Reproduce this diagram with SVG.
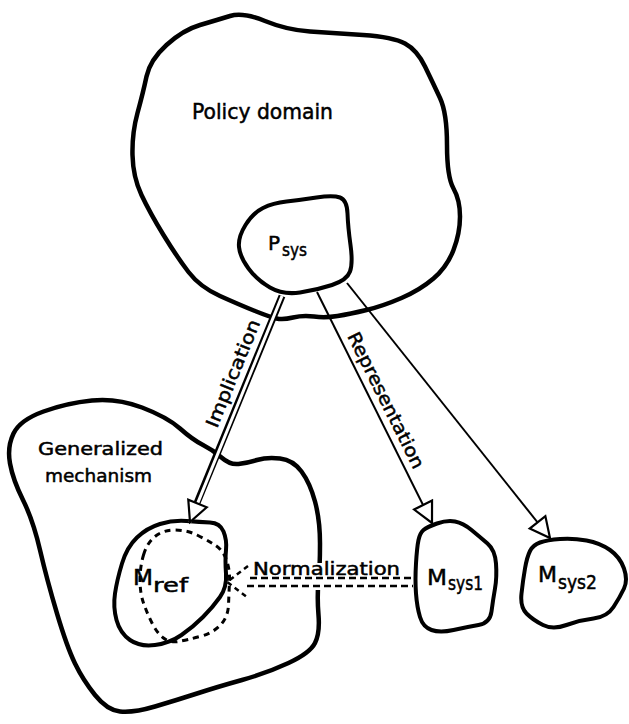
<svg xmlns="http://www.w3.org/2000/svg" width="629" height="724" viewBox="0 0 629 724">
<style>
.blob{fill:none;stroke:#000;stroke-width:4.5;stroke-linejoin:round;stroke-linecap:round}
.small{stroke-width:4}
.dash{fill:none;stroke:#000;stroke-width:3;stroke-dasharray:6 5}
.lbl{font-family:"DejaVu Sans",sans-serif;fill:#000;stroke:#000;stroke-width:0.5}
.line{fill:none;stroke:#000;stroke-width:2}
</style>
<defs>
<marker id="tri" markerUnits="userSpaceOnUse" markerWidth="26" markerHeight="26" refX="22" refY="12" orient="auto">
<path d="M2,2 L22,12 L2,22 Z" fill="#fff" stroke="#000" stroke-width="2.2" stroke-linejoin="miter"/>
</marker>
</defs>
<rect width="629" height="724" fill="#fff"/>
<g id="policy-domain">
<path class="blob" d="M230,16 Q243,12 265,21 Q287,30 310,31.5 Q333,33 363,35 Q393,37 405,43.5 Q417,50 425,66.5 Q433,83 440,98 Q447,113 447,145 Q447,177 453.5,188.5 Q460,200 460,216.5 Q460,233 453.5,250 Q447,267 433.5,278.5 Q420,290 401.5,298 Q383,306 366.5,310 Q350,314 337.5,316 Q325,318 314,316.5 Q303,315 293,317.5 Q283,320 276.5,318.5 Q270,317 255,311 Q240,305 220,296 Q200,287 188.5,272 Q177,257 163.5,235 Q150,213 141.5,195 Q133,177 132.5,155 Q132,133 137.5,113 Q143,93 146.5,76.5 Q150,60 166.5,45 Q183,30 200,25 Q217,20 230,16 Z"/>
<text class="lbl" x="192" y="119" font-size="21" textLength="141" lengthAdjust="spacingAndGlyphs">Policy domain</text>
</g>
<g id="psys">
<path class="blob small" d="M245.5,225 Q253,213 263,208 Q273,203 286.5,201.5 Q300,200 316.5,197.5 Q333,195 340,197.5 Q347,200 347.5,213.5 Q348,227 350.5,245 Q353,263 350,271.5 Q347,280 332,285 Q317,290 300,292.5 Q283,295 270,287.5 Q257,280 248.5,268.5 Q240,257 239,247 Q238,237 245.5,225 Z"/>
<text class="lbl" x="268" y="250" font-size="20">P</text>
<text class="lbl" x="282" y="256" font-size="18" textLength="25" lengthAdjust="spacingAndGlyphs">sys</text>
</g>
<g id="generalized-mechanism">
<path class="blob" d="M13.5,433.5 Q20,420 43.5,411.5 Q67,403 92,400.5 Q117,398 142,407.5 Q167,417 180,428.5 Q193,440 203,445 Q213,450 221.5,457.5 Q230,465 238.5,464 Q247,463 257,460 Q267,457 280,458.5 Q293,460 301.5,471.5 Q310,483 315,501.5 Q320,520 320,543.5 Q320,567 318.5,582 Q317,597 318.5,615 Q320,633 315,643 Q310,653 288.5,663 Q267,673 242,680 Q217,687 197,693.5 Q177,700 155,706.5 Q133,713 120,711.5 Q107,710 95,695 Q83,680 75,663.5 Q67,647 57,613.5 Q47,580 40,550 Q33,520 23,500 Q13,480 10,463.5 Q7,447 13.5,433.5 Z"/>
<rect x="311" y="563" width="14" height="27" fill="#fff"/>
<text class="lbl" x="38" y="455" font-size="18" textLength="125" lengthAdjust="spacingAndGlyphs">Generalized</text>
<text class="lbl" x="45" y="482" font-size="18" textLength="107" lengthAdjust="spacingAndGlyphs">mechanism</text>
</g>
<g id="mref">
<path class="blob small" d="M137,537.5 Q147,528 160,524 Q173,520 186.5,521 Q200,522 210,522.5 Q220,523 223.5,531.5 Q227,540 226,550 Q225,560 226,573.5 Q227,587 220,597 Q213,607 203,617 Q193,627 181.5,635 Q170,643 155,645 Q140,647 130,640 Q120,633 116.5,620 Q113,607 115,593.5 Q117,580 122,563.5 Q127,547 137,537.5 Z"/>
<path class="dash" d="M143.5,555 Q147,543 155,536.5 Q163,530 175,530 Q187,530 197,535 Q207,540 215,545 Q223,550 226.5,560 Q230,570 229.5,581.5 Q229,593 228.5,605 Q228,617 220.5,625 Q213,633 200,636.5 Q187,640 178.5,641.5 Q170,643 163.5,638 Q157,633 152,623 Q147,613 143.5,603 Q140,593 140,580 Q140,567 143.5,555 Z"/>
<text class="lbl" x="133" y="585" font-size="22" textLength="20" lengthAdjust="spacingAndGlyphs">M</text>
<text class="lbl" x="153" y="592" font-size="19" textLength="35" lengthAdjust="spacingAndGlyphs">ref</text>
</g>
<g id="msys1">
<path class="blob small" d="M418.5,540 Q420,533 423.5,530 Q427,527 437,523.5 Q447,520 455,521.5 Q463,523 471.5,530 Q480,537 487.5,543.5 Q495,550 496,563.5 Q497,577 495,588.5 Q493,600 491.5,611.5 Q490,623 478.5,625 Q467,627 453.5,630 Q440,633 431.5,630 Q423,627 420,617 Q417,607 416,593.5 Q415,580 416,563.5 Q417,547 418.5,540 Z"/>
<text class="lbl" x="427" y="585" font-size="22" textLength="20" lengthAdjust="spacingAndGlyphs">M</text>
<text class="lbl" x="448" y="590" font-size="19" textLength="35" lengthAdjust="spacingAndGlyphs">sys1</text>
</g>
<g id="msys2">
<path class="blob small" d="M530,551 Q533,545 540,542.5 Q547,540 560,539 Q573,538 586.5,540.5 Q600,543 610,550 Q620,557 624,568.5 Q628,580 624,588.5 Q620,597 613.5,607 Q607,617 593.5,618.5 Q580,620 566.5,625 Q553,630 543,625 Q533,620 526.5,613.5 Q520,607 521.5,593.5 Q523,580 525,568.5 Q527,557 530,551 Z"/>
<text class="lbl" x="538" y="582" font-size="22" textLength="19" lengthAdjust="spacingAndGlyphs">M</text>
<text class="lbl" x="558" y="589" font-size="19" textLength="39" lengthAdjust="spacingAndGlyphs">sys2</text>
</g>
<g id="connectors">
<path d="M282,296 L197,503" stroke="#000" stroke-width="7" fill="none"/>
<path d="M282,296 L190,522" stroke="#fff" stroke-width="3" fill="none" marker-end="url(#tri)"/>
<path class="line" d="M317,292 L432,523" marker-end="url(#tri)"/>
<path class="line" d="M347,283 L550,538" marker-end="url(#tri)"/>
<path d="M250,578 L413,578 M247,586 L413,586" stroke="#000" stroke-width="2.5" stroke-dasharray="7 4" fill="none"/>
<path d="M248,566 L227,582 L247,597" stroke="#000" stroke-width="2.5" stroke-dasharray="5 4" fill="none"/>
<text class="lbl" transform="translate(217,429) rotate(-67.8)" font-size="18" textLength="115" lengthAdjust="spacingAndGlyphs">Implication</text>
<text class="lbl" transform="translate(347,336) rotate(63.5)" font-size="18" textLength="150" lengthAdjust="spacingAndGlyphs">Representation</text>
<text class="lbl" x="253" y="575" font-size="17" textLength="147" lengthAdjust="spacingAndGlyphs">Normalization</text>
</g>
</svg>
